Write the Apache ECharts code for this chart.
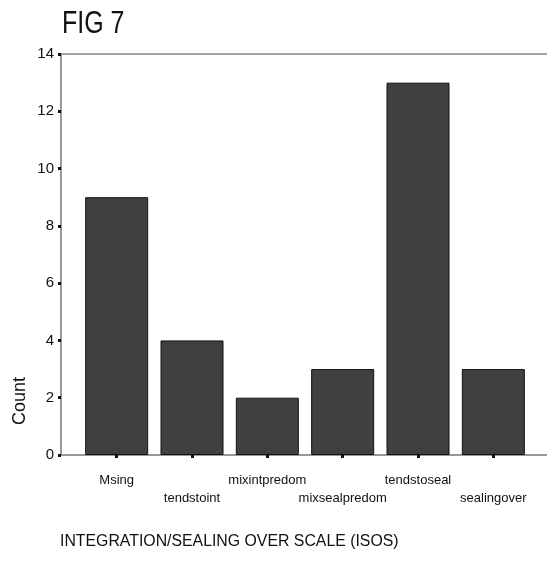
<!DOCTYPE html>
<html>
<head>
<meta charset="utf-8">
<script src="https://cdn.jsdelivr.net/npm/echarts@6/dist/echarts.min.js"></script>
<style>
html,body{margin:0;padding:0;background:#fff;}
#chart{width:547px;height:564px;}
</style>
</head>
<body>
<div id="chart"></div>
<script>
var categories = ['Msing', 'tendstoint', 'mixintpredom', 'mixsealpredom', 'tendstoseal', 'sealingover'];
var counts = [9, 4, 2, 3, 13, 3];
var yTicks = [0, 2, 4, 6, 8, 10, 12, 14];
var titleText = 'FIG 7';
var xTitle = 'INTEGRATION/SEALING OVER SCALE (ISOS)';
var yTitle = 'Count';

var FONT = '"Liberation Sans", Arial, sans-serif';
var chart = echarts.init(document.getElementById('chart'), null, {renderer: 'canvas'});
var TOP = 54, BOTTOM = 109;
chart.setOption({
  backgroundColor: '#fff',
  animation: false,
  graphic: [
    {type: 'text', x: 62, y: 8, scaleX: 0.78,
     style: {text: titleText, font: '32px ' + FONT, fill: '#111'}},
    {type: 'text', x: 60, y: 534, scaleX: 0.99,
     style: {text: xTitle, font: '16px ' + FONT, fill: '#111'}},
    {type: 'text', left: 11, top: 377, rotation: Math.PI / 2,
     style: {text: yTitle, font: '18px ' + FONT, fill: '#111'}}
  ],
  grid: [
    {left: 61, right: 0, top: TOP, bottom: BOTTOM},
    {left: 79, right: 16, top: TOP, bottom: BOTTOM}
  ],
  xAxis: [
    {gridIndex: 0, type: 'value', min: 0, max: 1, position: 'bottom',
     axisLine: {show: true, lineStyle: {color: '#777', width: 1.5}},
     axisTick: {show: false}, axisLabel: {show: false}, splitLine: {show: false}},
    {gridIndex: 0, type: 'value', min: 0, max: 1, position: 'top',
     axisLine: {show: true, lineStyle: {color: '#888', width: 1.5}},
     axisTick: {show: false}, axisLabel: {show: false}, splitLine: {show: false}},
    {gridIndex: 1, type: 'category', data: categories, position: 'bottom',
     axisLine: {show: false},
     axisTick: {show: true, alignWithLabel: true, length: 3, lineStyle: {color: '#111', width: 3}},
     axisLabel: {show: true, interval: 0, margin: 16, fontFamily: FONT, fontSize: 13, color: '#111', lineHeight: 18,
       formatter: function (v, i) { return i % 2 ? '\n' + v : v; }},
     splitLine: {show: false}}
  ],
  yAxis: [
    {gridIndex: 0, type: 'value', min: 0, max: 14, interval: 2,
     axisLine: {show: true, lineStyle: {color: '#777', width: 1.5}},
     axisTick: {show: true, length: 3, lineStyle: {color: '#111', width: 3}},
     axisLabel: {show: true, margin: 7, fontFamily: FONT, fontSize: 15, color: '#111',
       formatter: function (v) { return yTicks.indexOf(v) >= 0 ? String(v) : ''; }},
     splitLine: {show: false}},
    {gridIndex: 1, type: 'value', min: 0, max: 14, interval: 2, show: false}
  ],
  series: [{
    type: 'bar', xAxisIndex: 2, yAxisIndex: 1, data: counts,
    barWidth: 63,
    itemStyle: {color: '#404040', borderColor: '#111', borderWidth: 1}
  }]
});
</script>
</body>
</html>
